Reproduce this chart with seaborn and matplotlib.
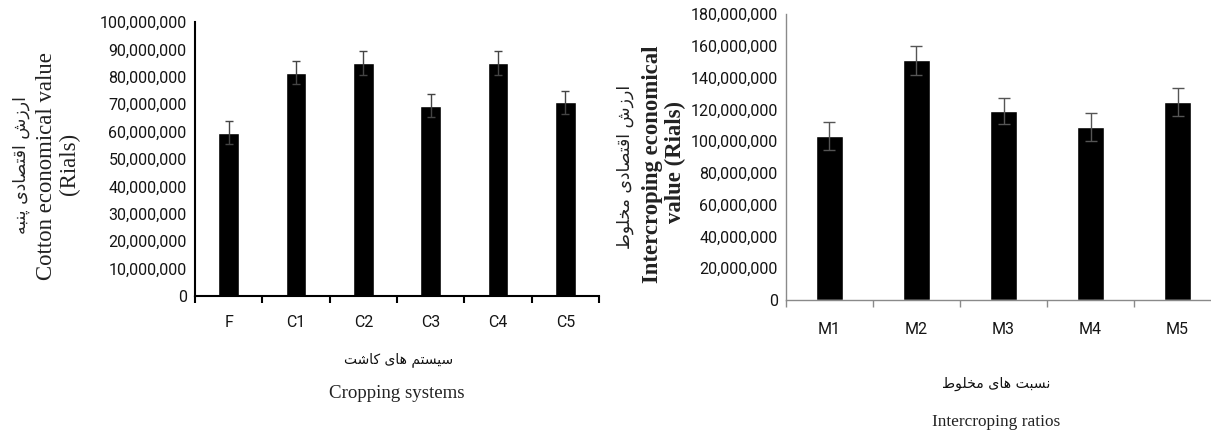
import matplotlib
matplotlib.use("Agg")
import matplotlib.pyplot as plt
import seaborn as sns
import pandas as pd
import numpy as np

# ---------------- data ----------------
crop_cats = ["F", "C1", "C2", "C3", "C4", "C5"]
crop_vals = [59.6e6, 81.4e6, 85.0e6, 69.5e6, 85.0e6, 70.7e6]
crop_errs = [4.1e6, 4.2e6, 4.4e6, 4.3e6, 4.4e6, 4.2e6]
crop_ticks = [0, 10e6, 20e6, 30e6, 40e6, 50e6, 60e6, 70e6, 80e6, 90e6, 100e6]

mix_cats = ["M1", "M2", "M3", "M4", "M5"]
mix_vals = [103.2e6, 150.9e6, 118.9e6, 109.1e6, 124.8e6]
mix_errs = [9.0e6, 9.0e6, 8.3e6, 8.8e6, 8.8e6]
mix_ticks = [0, 20e6, 40e6, 60e6, 80e6, 100e6, 120e6, 140e6, 160e6, 180e6]

fa_left_y = "ارزش اقتصادی پنبه"
fa_left_x = "سیستم های کاشت"
fa_right_y = "ارزش اقتصادی مخلوط"
fa_right_x = "نسبت های مخلوط"

# ------------- simple Persian shaping (visual order for LTR renderer) -------------
FORMS = {
    '\u0627': ('\uFE8D', '\uFE8E', None, None),
    '\u0628': ('\uFE8F', '\uFE90', '\uFE91', '\uFE92'),
    '\u067E': ('\uFB56', '\uFB57', '\uFB58', '\uFB59'),
    '\u062A': ('\uFE95', '\uFE96', '\uFE97', '\uFE98'),
    '\u062E': ('\uFEA5', '\uFEA6', '\uFEA7', '\uFEA8'),
    '\u062F': ('\uFEA9', '\uFEAA', None, None),
    '\u0631': ('\uFEAD', '\uFEAE', None, None),
    '\u0632': ('\uFEAF', '\uFEB0', None, None),
    '\u0633': ('\uFEB1', '\uFEB2', '\uFEB3', '\uFEB4'),
    '\u0634': ('\uFEB5', '\uFEB6', '\uFEB7', '\uFEB8'),
    '\u0635': ('\uFEB9', '\uFEBA', '\uFEBB', '\uFEBC'),
    '\u0637': ('\uFEC1', '\uFEC2', '\uFEC3', '\uFEC4'),
    '\u0642': ('\uFED5', '\uFED6', '\uFED7', '\uFED8'),
    '\u06A9': ('\uFB8E', '\uFB8F', '\uFB90', '\uFB91'),
    '\u0644': ('\uFEDD', '\uFEDE', '\uFEDF', '\uFEE0'),
    '\u0645': ('\uFEE1', '\uFEE2', '\uFEE3', '\uFEE4'),
    '\u0646': ('\uFEE5', '\uFEE6', '\uFEE7', '\uFEE8'),
    '\u0647': ('\uFEE9', '\uFEEA', '\uFEEB', '\uFEEC'),
    '\u0648': ('\uFEED', '\uFEEE', None, None),
    '\u06CC': ('\uFBFC', '\uFBFD', '\uFBFE', '\uFBFF'),
}


def fa(s):
    s = s.replace('\u064A', '\u06CC').replace('\u0643', '\u06A9')
    out = []
    for i, c in enumerate(s):
        f = FORMS.get(c)
        if f is None:
            out.append(c)
            continue
        prev = s[i - 1] if i > 0 else None
        nxt = s[i + 1] if i + 1 < len(s) else None
        jp = prev in FORMS and FORMS[prev][2] is not None
        jn = f[2] is not None and nxt in FORMS
        if jp and jn:
            g = f[3]
        elif jp:
            g = f[1]
        elif jn:
            g = f[2]
        else:
            g = f[0]
        out.append(g)
    return ''.join(reversed(out))


# ---------------- style ----------------
sns.set_style("white")
plt.rcParams['font.family'] = ['Roboto', 'DejaVu Sans']

W, H = 1211, 433
fig = plt.figure(figsize=(W / 100, H / 100), dpi=100)


def px_axes(x0, y_top, x1, y_bot):
    return fig.add_axes([x0 / W, 1 - y_bot / H, (x1 - x0) / W, (y_bot - y_top) / H])


tick_font = dict(family=['Roboto', 'DejaVu Sans'], size=11.5)
serif = ['Liberation Serif', 'DejaVu Serif']
farsi = ['DejaVu Sans']


def draw(ax, cats, vals, errs, yticks, spine_col, spine_lw, tick_len, err_col, capsize, label_pad):
    df = pd.DataFrame({"cat": cats, "val": vals})
    sns.barplot(data=df, x="cat", y="val", color="black", saturation=1,
                width=0.31, errorbar=None, ax=ax, order=cats)
    ax.errorbar(np.arange(len(cats)), vals, yerr=errs, fmt='none',
                ecolor=err_col, elinewidth=1.0, capsize=capsize, capthick=1.0)
    n = len(cats)
    ax.set_xlim(-0.5, n - 0.5)
    ax.set_ylim(0, yticks[-1])
    ax.set_yticks(yticks)
    ax.set_yticklabels([f"{int(t):,}" for t in yticks], **tick_font, color='#151515')
    ax.set_xticks(np.arange(n))
    ax.set_xticklabels(cats, **tick_font, color='#151515')
    ax.set_xticks(np.arange(-0.5, n, 1.0), minor=True)
    ax.tick_params(axis='x', which='major', length=0, pad=label_pad)
    ax.tick_params(axis='x', which='minor', length=tick_len, width=spine_lw,
                   color=spine_col, direction='out', bottom=True)
    ax.tick_params(axis='y', length=0, pad=6)
    for s in ['top', 'right']:
        ax.spines[s].set_visible(False)
    for s in ['left', 'bottom']:
        ax.spines[s].set_color(spine_col)
        ax.spines[s].set_linewidth(spine_lw)
    ax.set_xlabel("")
    ax.set_ylabel("")
    ax.grid(False)


# left panel
ax1 = px_axes(195, 22, 599, 296)
draw(ax1, crop_cats, crop_vals, crop_errs, crop_ticks, 'black', 1.5, 5, '#444444', 2.9, 14)

# right panel
ax2 = px_axes(786, 14, 1221, 300)
draw(ax2, mix_cats, mix_vals, mix_errs, mix_ticks, '#8a8a8a', 1.0, 5, '#555555', 4.0, 16)


def ftext(x, y, s, **kw):
    fig.text(x / W, 1 - y / H, s, ha='center', va='center', **kw)


# left labels
ftext(21, 165, fa(fa_left_y), rotation=90, family=farsi, size=12.4, color='#222222')
ftext(47, 166, "Cotton economical value", rotation=90, family=serif, size=16.4, color='#222222')
ftext(69, 164, "(Rials)", rotation=90, family=serif, size=16.4, color='#222222')
ftext(399, 360, fa(fa_left_x), family=farsi, size=10, color='#111111')
ftext(397, 393, "Cropping systems", family=serif, size=13.6, color='#222222')

# right labels
ftext(625, 167, fa(fa_right_y), rotation=90, family=farsi, size=12.4, color='#222222')
ftext(653, 164, "Intercroping economical", rotation=90, family=serif, size=16.4,
      weight='bold', color='#222222')
ftext(675, 162, "value (Rials)", rotation=90, family=serif, size=16.4,
      weight='bold', color='#222222')
ftext(996, 384, fa(fa_right_x), family=farsi, size=10.2, color='#111111')
ftext(996, 422, "Intercroping ratios", family=serif, size=12.4, color='#222222')

fig.savefig("out.png", dpi=100, facecolor='white')
